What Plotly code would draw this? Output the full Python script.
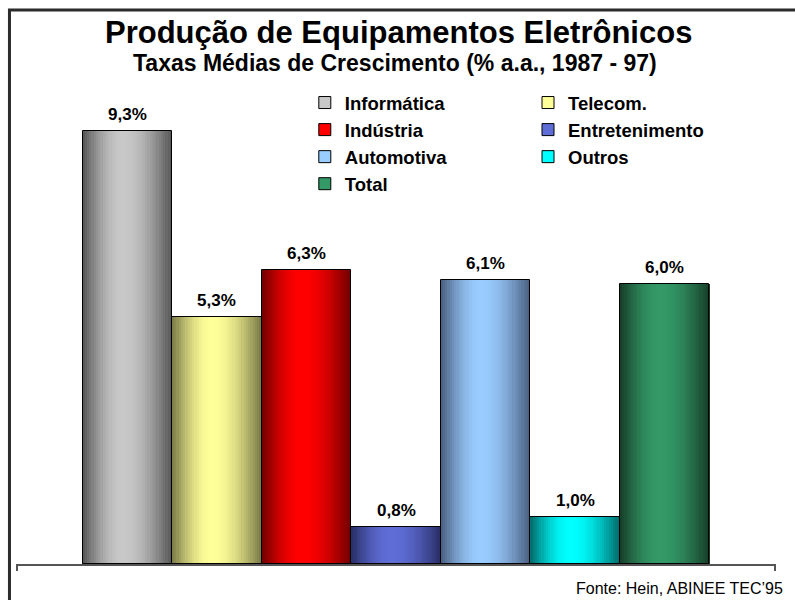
import math
import plotly.graph_objects as go

# Dados
setores = ["Informática", "Telecom.", "Indústria", "Entretenimento",
           "Automotiva", "Outros", "Total"]
taxas = [9.3, 5.3, 6.3, 0.8, 6.1, 1.0, 6.0]

# cores (borda escura, centro claro) para o efeito cilíndrico
cores_borda = [(85, 85, 85), (120, 120, 70), (110, 0, 0), (40, 45, 100),
               (72, 92, 125), (0, 105, 105), (22, 60, 40)]
cores_centro = [(200, 200, 200), (255, 255, 153), (255, 0, 0), (95, 110, 215),
                (153, 204, 255), (0, 255, 255), (51, 153, 102)]

# coluna 1 / coluna 2 da legenda
legenda_col = ["legend", "legend2", "legend", "legend2", "legend", "legend2", "legend"]

FONTE = "Liberation Sans, Arial, sans-serif"
N_FATIAS = 40
PICO = 0.45


def gradiente(borda, centro, n):
    cores = []
    for k in range(n):
        u = (k + 0.5) / n
        s = u / PICO if u <= PICO else (1 - u) / (1 - PICO)
        w = math.sin(s * math.pi / 2)
        c = [round(b + (ce - b) * w) for b, ce in zip(borda, centro)]
        cores.append(f"rgb({c[0]},{c[1]},{c[2]})")
    return cores


fig = go.Figure()

for i, (nome, v) in enumerate(zip(setores, taxas)):
    xs = [i - 0.5 + (k + 0.5) / N_FATIAS for k in range(N_FATIAS)]
    fig.add_trace(
        go.Bar(
            x=xs,
            y=[v] * N_FATIAS,
            width=1.08 / N_FATIAS,
            marker=dict(color=gradiente(cores_borda[i], cores_centro[i], N_FATIAS),
                        line=dict(width=0)),
            showlegend=False,
            hoverinfo="skip",
        )
    )

# contorno das barras
fig.add_trace(
    go.Bar(
        x=list(range(len(taxas))),
        y=taxas,
        width=1,
        marker=dict(color="rgba(0,0,0,0)", line=dict(color="black", width=1)),
        showlegend=False,
        hovertext=setores,
    )
)

# entradas da legenda
for i, nome in enumerate(setores):
    c = cores_centro[i]
    fig.add_trace(
        go.Bar(
            x=[None],
            y=[None],
            name=nome,
            marker=dict(color=f"rgb({c[0]},{c[1]},{c[2]})",
                        line=dict(color="black", width=1)),
            legend=legenda_col[i],
        )
    )

# rótulos de valor
for i, v in enumerate(taxas):
    fig.add_annotation(
        x=i, y=v, xref="x", yref="y",
        text=f"{v:.1f}".replace(".", ",") + "%",
        showarrow=False, yanchor="bottom", yshift=5,
        font=dict(family=FONTE, size=17, color="black", weight="bold"),
    )

fig.add_annotation(
    x=0.503, y=1.182, xref="paper", yref="paper", yanchor="top",
    text="Produção de Equipamentos Eletrônicos", showarrow=False,
    font=dict(family=FONTE, size=31, color="black", weight="bold"),
)
fig.add_annotation(
    x=0.499, y=1.107, xref="paper", yref="paper", yanchor="top",
    text="Taxas Médias de Crescimento (% a.a., 1987 - 97)", showarrow=False,
    font=dict(family=FONTE, size=23, color="black", weight="bold"),
)
fig.add_annotation(
    x=1.0118, y=-0.075, xref="paper", yref="paper", xanchor="right", yanchor="bottom",
    text="Fonte: Hein, ABINEE TEC’95", showarrow=False,
    font=dict(family=FONTE, size=16, color="black"),
)

# moldura
fig.add_shape(
    type="rect", xref="paper", yref="paper",
    x0=-0.0086, y0=-0.3, x1=1.1, y1=1.189,
    line=dict(color="#2b2b2b", width=3),
)

x_min, x_max = -1.2425, 7.2425
leg_font = dict(family=FONTE, size=18.5, color="black", weight="bold")

fig.update_layout(
    width=795,
    height=600,
    margin=dict(l=16, r=19, t=98, b=36, autoexpand=False),
    paper_bgcolor="white",
    plot_bgcolor="white",
    barmode="overlay",
    bargap=0,
    xaxis=dict(
        range=[x_min, x_max],
        showgrid=False, zeroline=False,
        showline=True, linecolor="#555555", linewidth=2,
        tickvals=[x_min + 0.01, x_max - 0.01], ticktext=["", ""],
        ticks="outside", ticklen=5, tickcolor="#555555", tickwidth=2,
    ),
    yaxis=dict(range=[0, 10], visible=False),
    legend=dict(x=0.380, y=1.030, xanchor="left", yanchor="top",
                bgcolor="rgba(0,0,0,0)", font=leg_font, tracegroupgap=0),
    legend2=dict(x=0.6737, y=1.030, xanchor="left", yanchor="top",
                 bgcolor="rgba(0,0,0,0)", font=leg_font, tracegroupgap=0),
    showlegend=True,
)

fig.write_html(
    "out.html",
    config={"displayModeBar": False},
    post_script="document.body.style.margin='0';document.body.style.overflow='hidden';",
)
